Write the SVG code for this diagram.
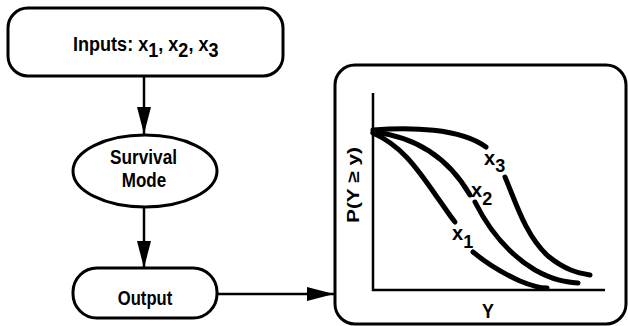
<svg xmlns="http://www.w3.org/2000/svg" width="628" height="326" viewBox="0 0 628 326">
<style>
.box{fill:#fff;stroke:#000;stroke-width:3}
.t{font-family:"Liberation Sans",Arial,sans-serif;font-size:21px;font-weight:bold;fill:#000}
.m{text-anchor:middle}
.c{fill:none;stroke:#000;stroke-width:5;stroke-linecap:round}
.ax{fill:none;stroke:#000;stroke-width:2.5}
.ln{fill:none;stroke:#000;stroke-width:2.5}
</style>
<defs>
<marker id="ah" markerUnits="userSpaceOnUse" markerWidth="28" markerHeight="16" refX="27" refY="8" orient="auto">
<path d="M0,1 L27,8 L0,15 Z" fill="#000"/>
</marker>
</defs>
<g id="connectors">
<line class="ln" x1="144" y1="77" x2="144" y2="134" marker-end="url(#ah)"/>
<line class="ln" x1="144" y1="207" x2="144" y2="268" marker-end="url(#ah)"/>
<line class="ln" x1="217" y1="294" x2="334" y2="294" marker-end="url(#ah)"/>
</g>
<g id="inputs">
<rect class="box" x="8" y="8" width="275" height="68" rx="20"/>
<text class="t" transform="translate(73,51) scale(0.86,1)">Inputs: x<tspan dy="6">1</tspan><tspan dy="-6">, x</tspan><tspan dy="6">2</tspan><tspan dy="-6">, x</tspan><tspan dy="6">3</tspan></text>
</g>
<g id="survival">
<ellipse class="box" cx="145" cy="171" rx="72" ry="36"/>
<text class="t m" transform="translate(143.5,164) scale(0.82,1)">Survival</text>
<text class="t m" transform="translate(144,187) scale(0.81,1)">Mode</text>
</g>
<g id="output">
<rect class="box" x="73" y="268" width="144" height="50" rx="24"/>
<text class="t m" transform="translate(145,305) scale(0.79,1)">Output</text>
</g>
<g id="plot">
<rect class="box" x="335" y="65" width="291" height="259" rx="20"/>
<path class="ax" d="M373,93 L373,290 L605,290"/>
<text class="t m" transform="translate(488,318) scale(0.85,1)">Y</text>
<text class="t m" style="font-size:17px" transform="translate(359,185) rotate(-90)" textLength="76" lengthAdjust="spacingAndGlyphs">P(Y ≥ y)</text>
<path class="c" d="M373,130 C410,127 460,128 486,147"/>
<path class="c" d="M505,177 C515,200 525,235 548,256 C565,270 578,273 590,275"/>
<path class="c" d="M373,132 C410,136 445,152 470,195"/>
<path class="c" d="M475,202 C490,232 510,255 535,270 C553,280 565,282 578,283"/>
<path class="c" d="M373,133 C400,145 415,165 437,197 C445,208 450,216 455,222"/>
<path class="c" d="M473,252 C485,262 500,272 520,281 C532,286 540,288 547,288"/>
<text class="t" x="484" y="165" style="font-size:20px">x<tspan dy="7" style="font-size:18px">3</tspan></text>
<text class="t" x="471" y="197" style="font-size:20px">x<tspan dy="8" style="font-size:18px">2</tspan></text>
<text class="t" x="452" y="240" style="font-size:20px">x<tspan dy="8" style="font-size:18px">1</tspan></text>
</g>
</svg>
